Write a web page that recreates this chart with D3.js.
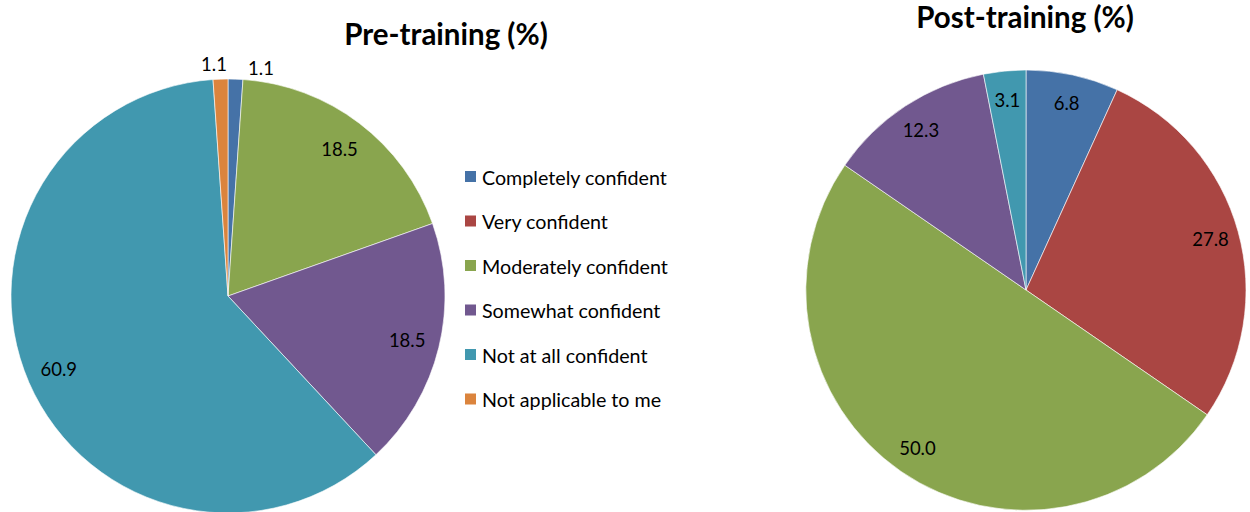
<!DOCTYPE html>
<html><head><meta charset="utf-8">
<script src="https://cdn.jsdelivr.net/npm/d3@7"></script>
<style>body{margin:0;background:#fff}svg{display:block}text{font-family:Lato,"Open Sans",sans-serif;fill:#000}</style>
</head><body><svg id="c" width="1250" height="512"></svg>
<script>
const categories = ["Completely confident","Very confident","Moderately confident","Somewhat confident","Not at all confident","Not applicable to me"];
const colors = ["#4572A7","#AA4643","#89A54E","#71588F","#4198AF","#DB843D"];
const preValues = [1.1, 0, 18.5, 18.5, 60.9, 1.1];
const postValues = [6.8, 27.8, 50.0, 12.3, 3.1, 0];
const titles = ["Pre-training (%)","Post-training (%)"];

const svg = d3.select("#c");
const pie = d3.pie().sort(null).value(d => d.v);

function drawPie(values, cx, cy, r, title, tx, ty, labelK){
  const g = svg.append("g").attr("transform",`translate(${cx},${cy})`);
  const data = values.map((v,i)=>({v, i}));
  const arcs = pie(data);
  const arc = d3.arc().innerRadius(0).outerRadius(r);
  g.selectAll("path").data(arcs.filter(a=>a.data.v>0)).join("path")
    .attr("d",arc).attr("fill",a=>colors[a.data.i]).attr("stroke","#fff").attr("stroke-width",0.6);
  const labs = arcs.filter(a=>a.data.v>0).map(a=>{
    const mid=(a.startAngle+a.endAngle)/2;
    const small = (a.endAngle-a.startAngle) < 0.1;
    const k = small ? 1.075 : labelK;
    return {a, x: Math.sin(mid)*r*k, y: -Math.cos(mid)*r*k, small};
  });
  const outs = labs.filter(l=>l.small).sort((p,q)=>p.x-q.x);
  for(let j=1;j<outs.length;j++){
    if(outs[j].x-outs[j-1].x<47){
      const m=(outs[j].x+outs[j-1].x)/2;
      outs[j-1].x=m-14; outs[j-1].y+=1;
      outs[j].x=m+33; outs[j].y+=5;
    }
  }
  g.selectAll("text.lab").data(labs).join("text").attr("class","lab")
    .attr("x",l=>l.x).attr("y",l=>l.y).attr("text-anchor","middle").attr("dominant-baseline","central")
    .style("font-size","18.5px").text(l=>l.a.data.v.toFixed(1));
  svg.append("text").attr("x",tx).attr("y",ty).attr("text-anchor","middle")
    .style("font-size","29.5px").style("font-weight","bold").text(title);
}

drawPie(preValues, 228, 296, 217, titles[0], 446, 45, 0.85);
drawPie(postValues, 1026, 290, 220, titles[1], 1025, 28, 0.87);

const leg = svg.append("g").attr("transform","translate(465,177)");
const rows = leg.selectAll("g").data(categories).join("g").attr("transform",(d,i)=>`translate(0,${i*44.5})`);
rows.append("rect").attr("x",0).attr("y",-6).attr("width",11).attr("height",11).attr("fill",(d,i)=>colors[i]);
rows.append("text").attr("x",17).attr("y",0).attr("dominant-baseline","central").style("font-size","19.7px").text(d=>d);
</script></body></html>
